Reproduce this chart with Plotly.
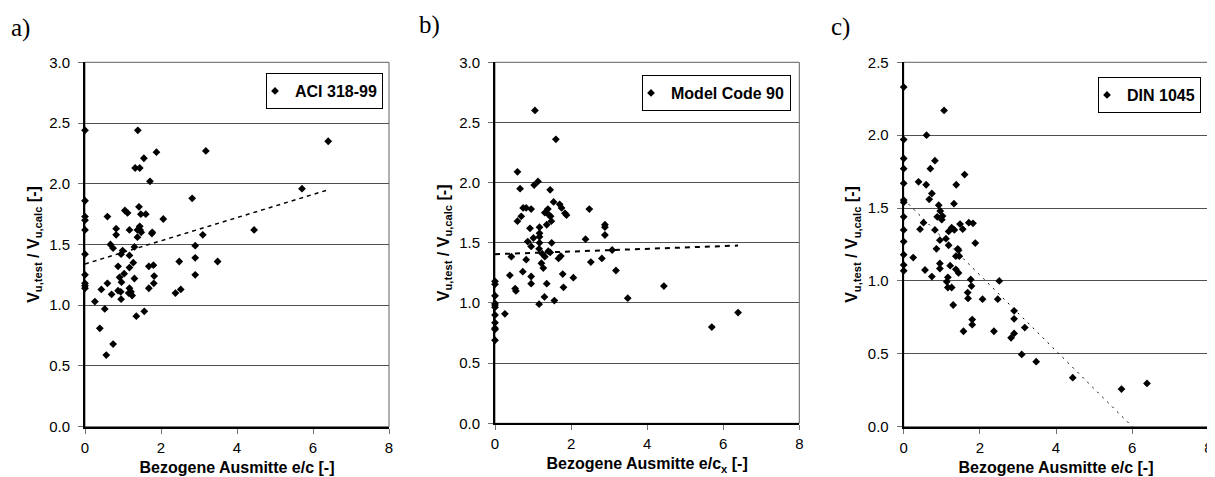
import plotly.graph_objects as go

# ---------------- data ----------------
a_x = [0, 0, 0, 0, 0, 0, 0, 0, 0, 0,
       0.26, 0.43, 0.39, 0.52, 0.56, 0.59, 0.59, 0.67, 0.70, 0.74,
       0.74, 0.82, 0.82, 0.87, 0.87, 0.91, 0.94, 0.95, 0.95, 0.96,
       0.99, 1.03, 1.05, 1.12, 1.15, 1.17, 1.17, 1.17, 1.17, 1.21,
       1.24, 1.27, 1.30, 1.30, 1.32, 1.35, 1.38, 1.38, 1.39, 1.42,
       1.44, 1.44, 1.47, 1.45, 1.48, 1.55, 1.56, 1.60, 1.68, 1.68,
       1.71, 1.76, 1.77, 1.80, 1.81, 1.82, 1.88, 2.06, 2.38, 2.48,
       2.52, 2.82, 2.90, 2.90, 2.90, 3.10, 3.18, 3.49, 4.45, 5.71,
       6.40]
a_y = [2.44, 1.86, 1.73, 1.70, 1.62, 1.42, 1.25, 1.18, 1.16, 1.14,
       1.03, 1.13, 0.81, 0.97, 0.59, 1.18, 1.73, 1.50, 1.09, 0.68,
       1.47, 1.58, 1.63, 1.32, 1.12, 1.23, 1.11, 1.05, 1.42, 1.19,
       1.45, 1.26, 1.78, 1.76, 1.10, 1.14, 1.62, 1.41, 1.31, 1.11,
       1.08, 1.35, 1.22, 1.48, 2.13, 0.91, 1.62, 1.56, 2.44, 1.81,
       2.13, 1.65, 1.75, 1.62, 1.60, 2.21, 0.95, 1.75, 1.32, 1.14,
       2.02, 1.59, 1.60, 1.33, 1.18, 1.24, 2.26, 1.71, 1.10, 1.36,
       1.13, 1.88, 1.49, 1.39, 1.25, 1.58, 2.27, 1.36, 1.62, 1.96,
       2.35]
trend_a_x = [0, 6.40]
trend_a_y = [1.34, 1.95]

b_x = [0, 0, 0, 0, 0, 0, 0, 0, 0, 0, 0,
       0.26, 0.39, 0.43, 0.53, 0.55, 0.59, 0.59, 0.66, 0.69, 0.73,
       0.74, 0.82, 0.82, 0.86, 0.92, 0.95, 0.95, 0.95, 0.95, 1.01,
       1.03, 1.05, 1.13, 1.16, 1.16, 1.17, 1.17, 1.17, 1.17, 1.22,
       1.24, 1.27, 1.30, 1.31, 1.31, 1.36, 1.36, 1.39, 1.40, 1.42,
       1.45, 1.45, 1.46, 1.48, 1.49, 1.54, 1.56, 1.60, 1.67, 1.70,
       1.73, 1.75, 1.78, 1.80, 1.84, 1.88, 2.06, 2.38, 2.48, 2.52,
       2.81, 2.89, 2.89, 2.89, 3.08, 3.18, 3.49, 4.44, 5.70, 6.39]
b_y = [1.18, 1.155, 1.06, 0.997, 0.983, 0.964, 0.90, 0.836, 0.79, 0.78, 0.69,
       0.91, 1.23, 1.385, 1.12, 1.10, 1.68, 2.09, 1.95, 1.72, 1.26,
       1.79, 1.79, 1.36, 1.51, 1.62, 1.22, 1.78, 1.47, 1.16, 1.54,
       1.98, 2.60, 2.01, 0.99, 1.45, 1.63, 1.58, 1.55, 1.50, 1.33,
       1.41, 1.29, 1.05, 1.385, 1.75, 1.65, 1.16, 1.78, 1.43, 1.73,
       1.94, 1.42, 1.72, 1.68, 1.50, 1.84, 1.02, 2.36, 1.37, 1.82,
       1.39, 1.79, 1.24, 1.13, 1.745, 1.73, 1.21, 1.53, 1.78, 1.34,
       1.37, 1.65, 1.63, 1.565, 1.44, 1.27, 1.04, 1.14, 0.80, 0.92]
trend_b_x = [0, 6.39]
trend_b_y = [1.405, 1.477]

c_x = [0, 0, 0, 0, 0, 0, 0, 0, 0, 0, 0, 0, 0,
       0.25, 0.39, 0.43, 0.52, 0.56, 0.59, 0.60, 0.67, 0.70, 0.74,
       0.74, 0.82, 0.82, 0.86, 0.88, 0.92, 0.95, 0.95, 0.95, 0.96,
       1.00, 1.02, 1.06, 1.11, 1.13, 1.16, 1.16, 1.18, 1.18, 1.22,
       1.26, 1.26, 1.30, 1.32, 1.33, 1.37, 1.38, 1.37, 1.42, 1.44,
       1.44, 1.46, 1.48, 1.55, 1.57, 1.60, 1.68, 1.69, 1.71, 1.76,
       1.78, 1.80, 1.80, 1.82, 1.88, 2.07, 2.37, 2.47, 2.51, 2.82,
       2.90, 2.90, 2.90, 3.18, 3.10, 3.48, 4.44, 5.72, 6.39]
c_y = [2.33, 1.97, 1.84, 1.77, 1.67, 1.555, 1.54, 1.44, 1.35, 1.27, 1.18, 1.11, 1.07,
       1.16, 1.68, 1.355, 1.40, 1.075, 1.66, 2.00, 1.56, 1.77, 1.60,
       1.03, 1.35, 1.825, 1.22, 1.44, 1.52, 1.28, 1.12, 1.085, 1.48,
       1.42, 1.445, 2.17, 1.29, 0.995, 1.025, 0.955, 1.34, 1.245, 1.105,
       0.955, 1.365, 0.835, 1.53, 1.35, 1.17, 1.66, 1.08, 1.22, 1.21,
       1.055, 1.17, 1.39, 1.355, 0.655, 1.73, 0.92, 0.88, 1.40, 1.01,
       0.965, 0.735, 0.70, 1.395, 1.26, 0.875, 0.655, 0.875, 1.00, 0.61,
       0.795, 0.74, 0.64, 0.68, 0.496, 0.446, 0.336, 0.258, 0.297]
trend_c_x = [0, 6.39]
trend_c_y = [1.56, -0.10]

panel_labels = ["a)", "b)", "c)"]
legend_names = ["ACI 318-99", "Model Code 90", "DIN 1045"]
x_titles = ["Bezogene Ausmitte e/c [-]", "Bezogene Ausmitte e/c<sub>x</sub> [-]",
            "Bezogene Ausmitte e/c [-]"]
y_title = "V<sub>u,test</sub> / V<sub>u,calc</sub> [-]"
y_max = [3.0, 3.0, 2.5]

# ---------------- layout geometry (pixels of the 1215x477 picture) ----------------
OFF = 8                      # page body margin in the browser
W, H = 1215 - OFF, 477 - OFF
FONT = "Arial, Liberation Sans, sans-serif"
areas = [(85, 389, 62.3, 426.7), (495, 799.3, 62.3, 423.3), (903.7, 1208.3, 62.3, 426.7)]
legend_pos = [(383, 73), (791, 75), (1201, 77)]
label_pos = [(9, 28), (417, 25), (829, 27)]
trend_dash = ["4px,4px", "5px,5px", "2px,5px"]
trend_width = [1.5, 2, 1]


def fx(px):
    return (px - OFF) / W


def fy(py):
    return (H - (py - OFF)) / H


fig = go.Figure()
series = [(a_x, a_y, trend_a_x, trend_a_y), (b_x, b_y, trend_b_x, trend_b_y),
          (c_x, c_y, trend_c_x, trend_c_y)]

for i, (sx, sy, tx, ty) in enumerate(series):
    n = "" if i == 0 else str(i + 1)
    xa, ya = "x" + n, "y" + n
    leg = "legend" + n
    fig.add_trace(go.Scatter(
        x=sx, y=sy, mode="markers", name="<b>" + legend_names[i] + "</b>",
        xaxis=xa, yaxis=ya, legend=leg,
        marker=dict(symbol="diamond", size=6, color="black"),
        cliponaxis=False))
    fig.add_trace(go.Scatter(
        x=tx, y=ty, mode="lines", showlegend=False, xaxis=xa, yaxis=ya,
        line=dict(color="black", width=trend_width[i], dash=trend_dash[i]),
        hoverinfo="skip"))

    l, r, t, b = areas[i]
    tick_font = dict(family=FONT, size=15, color="black")
    title_font = dict(family=FONT, size=16, color="black")
    fig.layout["xaxis" + n] = dict(
        domain=[fx(l), min(fx(r), 1.0)], range=[0, 8], dtick=2, tick0=0, anchor=ya,
        showgrid=False, zeroline=False, showline=True, linecolor="black",
        linewidth=2, ticks="outside", ticklen=5, tickcolor="#707070",
        tickfont=tick_font, ticklabeloverflow="allow", automargin=False,
        ticklabelstandoff=1,
        title=dict(text="<b>" + x_titles[i] + "</b>", font=title_font, standoff=7))
    fig.layout["yaxis" + n] = dict(
        domain=[fy(b), fy(t)], range=[0, y_max[i]], dtick=0.5, tick0=0,
        tickformat=".1f", anchor=xa, showgrid=True, gridcolor="#505050",
        gridwidth=1, zeroline=False, showline=True, linecolor="black",
        linewidth=2, ticks="outside", ticklen=5, tickcolor="#707070",
        tickfont=tick_font, ticklabeloverflow="allow", automargin=False,
        ticklabelstandoff=5,
        title=dict(text="<b>" + y_title + "</b>", font=title_font, standoff=6))
    lx, ly = legend_pos[i]
    fig.layout[leg] = dict(
        x=fx(lx), y=fy(ly), xanchor="right", yanchor="top",
        bgcolor="white", bordercolor="black", borderwidth=1,
        font=dict(family=FONT, size=16, color="black"),
        itemwidth=30, tracegroupgap=0, indentation=-12)
    # thin frame around plot area
    fig.add_shape(type="rect", xref=xa + " domain", yref=ya + " domain",
                  x0=0, x1=1, y0=0, y1=1, line=dict(color="#606060", width=1),
                  layer="below")
    px, py = label_pos[i]
    fig.add_annotation(text=panel_labels[i], xref="paper", yref="paper",
                       x=fx(px), y=fy(py), xanchor="left", yanchor="middle",
                       showarrow=False,
                       font=dict(family="Liberation Serif, Times New Roman, serif",
                                 size=25, color="black"))

fig.update_layout(width=W, height=H,
                  margin=dict(l=0, r=0, t=0, b=0, pad=0, autoexpand=False),
                  paper_bgcolor="white", plot_bgcolor="white", showlegend=True)

fig.write_html("out.html")
